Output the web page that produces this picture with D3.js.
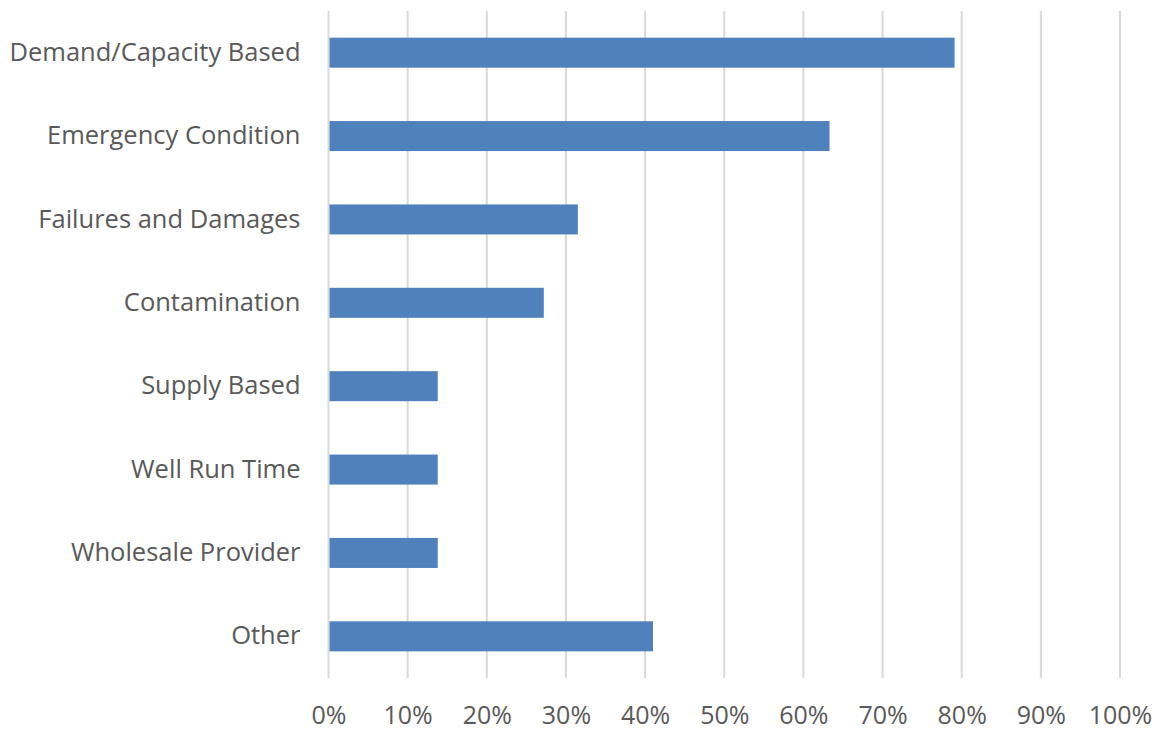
<!DOCTYPE html>
<html>
<head>
<meta charset="utf-8">
<script src="https://cdn.jsdelivr.net/npm/d3@7"></script>
<style>
  html, body { margin: 0; padding: 0; background: #fff; }
  svg { display: block; }
</style>
</head>
<body>
<svg id="chart" width="1158" height="730"></svg>
<script>
const categories = ["Demand/Capacity Based", "Emergency Condition", "Failures and Damages", "Contamination", "Supply Based", "Well Run Time", "Wholesale Provider", "Other"];
const values = [0.791, 0.633, 0.315, 0.272, 0.138, 0.138, 0.138, 0.410];
const tickValues = [0, 0.1, 0.2, 0.3, 0.4, 0.5, 0.6, 0.7, 0.8, 0.9, 1.0];

const svg = d3.select("#chart");
const margin = { left: 328.5, right: 38, top: 11, bottom: 52 };
const W = 1158, H = 730;

const x = d3.scaleLinear().domain([0, 1]).range([margin.left, W - margin.right]);
const y = d3.scaleBand().domain(categories).range([margin.top, H - margin.bottom]).paddingInner(0.64).paddingOuter(0.32);

const font = "'Open Sans', 'Liberation Sans', sans-serif";
const textColor = "#595959";

// gridlines
svg.append("g").selectAll("line").data(tickValues).join("line")
  .attr("x1", d => x(d)).attr("x2", d => x(d))
  .attr("y1", margin.top).attr("y2", H - margin.bottom)
  .attr("stroke", "#d9d9d9").attr("stroke-width", 2);

// bars
svg.append("g").selectAll("rect").data(values).join("rect")
  .attr("x", x(0) + 1)
  .attr("y", (d, i) => y(categories[i]))
  .attr("width", d => x(d) - x(0) - 1)
  .attr("height", y.bandwidth())
  .attr("fill", "#4f81bd");

// x axis labels
const xAxis = d3.axisBottom(x).tickValues(tickValues).tickFormat(d3.format(".0%")).tickSize(0).tickPadding(0);
const gx = svg.append("g").attr("transform", `translate(0, ${H - margin.bottom})`).call(xAxis);
gx.select(".domain").remove();
gx.selectAll("text")
  .attr("y", 38).attr("dy", "0.32em")
  .style("font-family", font).style("font-size", "25px").attr("fill", textColor);

// y axis labels
const yAxis = d3.axisLeft(y).tickSize(0).tickPadding(28);
const gy = svg.append("g").attr("transform", `translate(${margin.left}, 0)`).call(yAxis);
gy.select(".domain").remove();
gy.selectAll("text")
  .attr("dy", "0.32em")
  .style("font-family", font).style("font-size", "25.5px").attr("fill", textColor);
</script>
</body>
</html>
